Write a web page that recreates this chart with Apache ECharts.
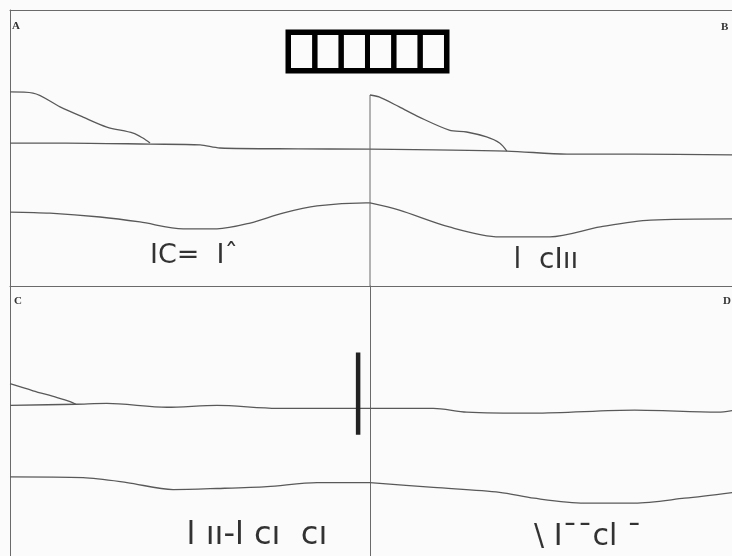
<!DOCTYPE html>
<html>
<head>
<meta charset="utf-8">
<script src="https://cdn.jsdelivr.net/npm/echarts@6/dist/echarts.min.js"></script>
<style>
  html, body { margin: 0; padding: 0; background: #fbfbfb; }
  #chart { width: 732px; height: 556px; }
</style>
</head>
<body>
<div id="chart"></div>
<script>
// each panel: x 0..100 left->right, y 0..100 top->bottom
const panelLetters = ['A', 'B', 'C', 'D']
const panelTexts = ['IC=  Iˆ', 'l  cIıı', 'l ıı-l cı  cı', '\\ Iˉˉcl ˉ']
const textAnchors = [[51.1, 89.2], [48.6, 91], [68.6, 92.6], [60.2, 93.1]]

const humpA = [[0, 29.7], [6.4, 30.1], [13.9, 35.1], [20.3, 38.8], [26.9, 42.4], [34.2, 44.6], [36.9, 46.4], [38.9, 48.2]]
const baseA = [[0, 48.2], [15.6, 48.2], [38.9, 48.6], [52.8, 48.9], [58.3, 50.0], [80, 50.3], [100, 50.4]]
const lowerA = [[0, 73.2], [11.1, 73.6], [25, 75.0], [36.1, 76.8], [48.1, 79.3], [57.5, 79.3], [66.7, 77.2], [75.8, 73.6], [85.3, 71.0], [98.9, 69.9], [100, 69.9]]

const dividerB = [[0, 30.8], [0, 100]]
const humpB = [[0, 30.8], [2.5, 31.5], [8.1, 35.1], [13.6, 38.8], [21.9, 43.5], [26.7, 44.2], [32.2, 46.0], [35.8, 48.2], [37.8, 51.1]]
const baseB = [[0, 50.4], [37.8, 51.1], [54.4, 52.2], [73.1, 52.2], [100.6, 52.5]]
const lowerB = [[0, 69.9], [8.1, 72.5], [21.9, 78.6], [35.8, 82.2], [49.7, 82.2], [63.6, 78.6], [77.5, 76.1], [100.6, 75.7]]

const humpC = [[0, 36.2], [6.4, 38.8], [13.1, 41.3], [16.7, 42.8], [18.3, 43.8]]
const baseC = [[0, 44.2], [18.3, 43.8], [26.9, 43.5], [43.6, 44.9], [57.5, 44.2], [74.2, 45.3], [98.9, 45.3], [100, 45.3]]
const lowerC = [[0, 70.7], [20.3, 71.0], [32.5, 72.8], [45.3, 75.4], [57.5, 75.0], [71.4, 74.3], [85.3, 72.8], [98.9, 72.8], [100, 72.8]]
const scaleBarC = [[96.7, 24.6], [96.7, 55.1]]

const baseD = [[0, 45.3], [17.5, 45.3], [26.7, 46.7], [45.3, 47.1], [73.1, 46.0], [96.1, 46.7], [100.6, 46.0]]
const lowerD = [[0, 72.8], [17.5, 74.6], [35.8, 76.4], [45.3, 78.6], [59.2, 80.4], [73.1, 80.4], [86.9, 78.6], [100.6, 76.4]]

const frameColor = '#6a6a6a'
const curveColor = '#595959'

const grids = [
    { left: 10, top: 10, width: 360, height: 276 },
    { left: 370, top: 10, width: 362, height: 276 },
    { left: 10, top: 286, width: 360, height: 276 },
    { left: 370, top: 286, width: 362, height: 276 }
]

const hiddenBits = {
    axisTick: { show: false },
    axisLabel: { show: false },
    splitLine: { show: false }
}

const curve = (name, gridIndex, data, extra) => Object.assign({
    name,
    type: 'line',
    xAxisIndex: gridIndex,
    yAxisIndex: gridIndex,
    data,
    smooth: 0.3,
    symbol: 'none',
    lineStyle: { color: curveColor, width: 1.3 },
    silent: true
}, extra || {})

const textSizes = [27, 28, 32, 30]

const textMark = (i) => ({
    name: 'text' + panelLetters[i],
    type: 'scatter',
    xAxisIndex: i,
    yAxisIndex: i,
    symbolSize: 0,
    data: [textAnchors[i]],
    label: {
        show: true,
        position: 'inside',
        formatter: panelTexts[i],
        fontFamily: 'DejaVu Sans',
        fontSize: textSizes[i],
        color: '#000'
    },
    silent: true
})

const letterPos = [[12, 21], [721, 22], [14, 296], [723, 296]]

const option = {
    backgroundColor: '#fbfbfb',
    animation: false,
    title: [
        {
            // six empty glyph boxes
            text: '{b| }{b| }{b| }{b| }{b| }{b| }',
            left: 288.5,
            top: 32.5,
            padding: 0,
            borderWidth: 2,
            borderColor: '#000',
            textStyle: {
                lineHeight: 38,
                rich: {
                    b: { width: 26.33, height: 38, lineHeight: 38, borderWidth: 5, borderColor: '#000' }
                }
            }
        }
    ].concat(panelLetters.map((l, i) => ({
        text: l,
        left: letterPos[i][0],
        top: letterPos[i][1],
        padding: 0,
        textStyle: { fontFamily: 'Liberation Serif', fontWeight: 'bold', fontSize: 11, color: '#333' }
    }))),
    grid: grids,
    xAxis: grids.map((g, i) => Object.assign({
        type: 'value',
        gridIndex: i,
        min: 0,
        max: 100,
        position: 'top',
        axisLine: { show: true, onZero: false, lineStyle: { color: frameColor, width: 1 } }
    }, hiddenBits)),
    yAxis: grids.map((g, i) => Object.assign({
        type: 'value',
        gridIndex: i,
        min: 0,
        max: 100,
        inverse: true,
        axisLine: { show: i !== 1, onZero: false, lineStyle: { color: frameColor, width: 1 } }
    }, hiddenBits)),
    series: [
        curve('humpA', 0, humpA),
        curve('baseA', 0, baseA),
        curve('lowerA', 0, lowerA),
        curve('dividerB', 1, dividerB, { smooth: false, lineStyle: { color: frameColor, width: 1 } }),
        curve('humpB', 1, humpB),
        curve('baseB', 1, baseB),
        curve('lowerB', 1, lowerB),
        curve('humpC', 2, humpC),
        curve('baseC', 2, baseC),
        curve('lowerC', 2, lowerC),
        curve('scaleBarC', 2, scaleBarC, { smooth: false, lineStyle: { color: '#222', width: 4.5 } }),
        curve('baseD', 3, baseD),
        curve('lowerD', 3, lowerD)
    ].concat([0, 1, 2, 3].map(textMark))
}

const chart = echarts.init(document.getElementById('chart'))
chart.setOption(option)
</script>
</body>
</html>
